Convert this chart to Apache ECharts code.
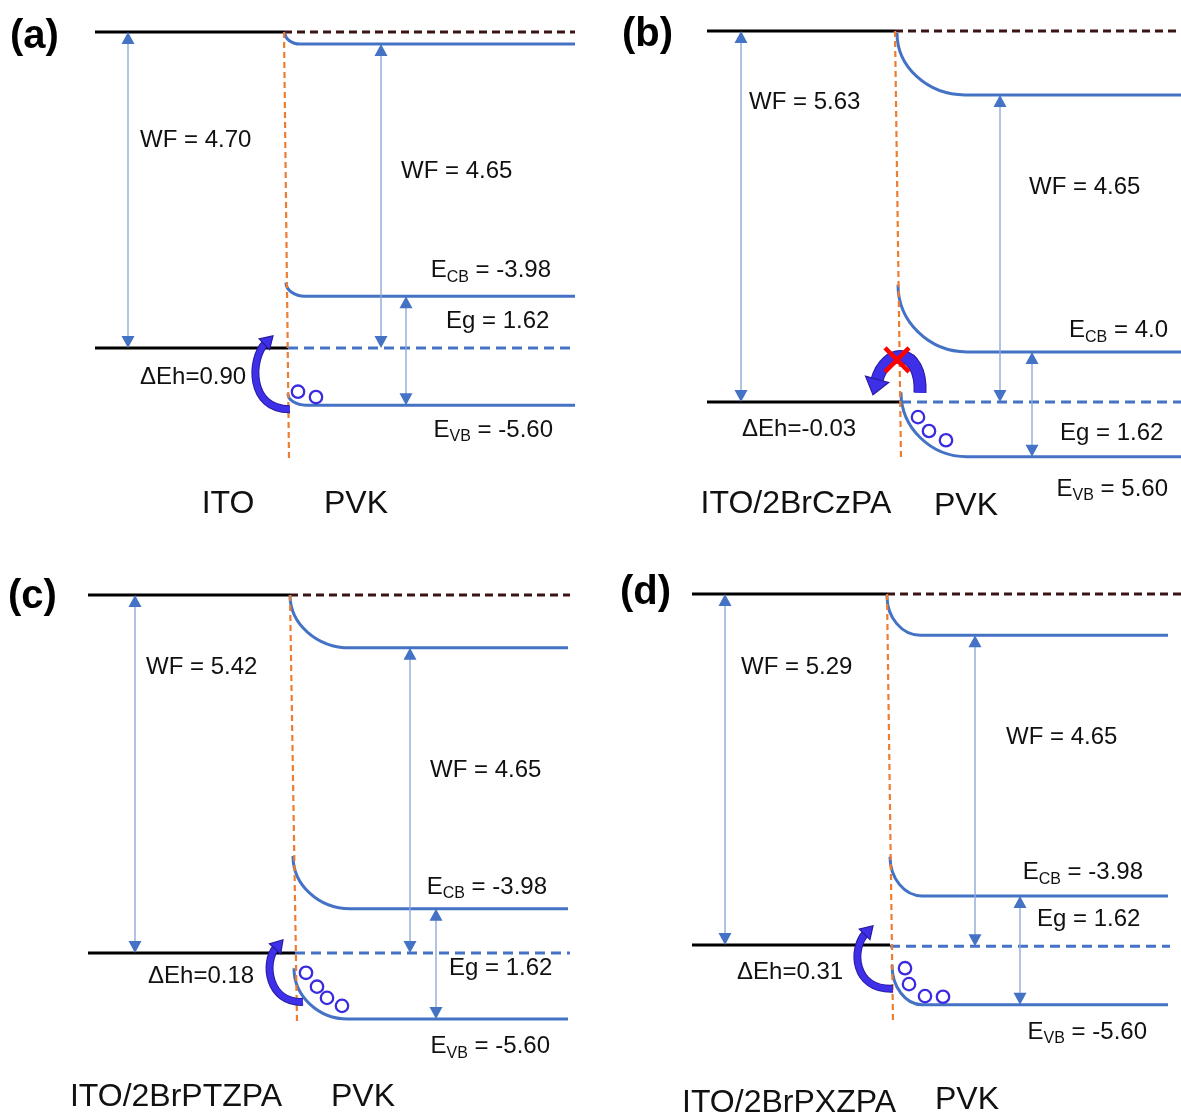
<!DOCTYPE html>
<html><head><meta charset="utf-8">
<script src="https://cdn.jsdelivr.net/npm/echarts@6/dist/echarts.min.js"></script>
<style>html,body{margin:0;padding:0;background:#fff}#c{width:1181px;height:1117px}</style>
</head><body><div id="c"></div>
<script>
// ===== DATA (energies in eV, relative to the vacuum level) =====
const panelTags = ['(a)', '(b)', '(c)', '(d)'];
const substrateNames = ['ITO', 'ITO/2BrCzPA', 'ITO/2BrPTZPA', 'ITO/2BrPXZPA'];
const absorberName = 'PVK';
const substrateWF = [4.70, 5.63, 5.42, 5.29];
const substrateWFText = ['4.70', '5.63', '5.42', '5.29'];
const pvkWFText = ['4.65', '4.65', '4.65', '4.65'];
const ecbText = ['-3.98', '4.0', '-3.98', '-3.98'];
const egText = ['1.62', '1.62', '1.62', '1.62'];
const evbText = ['-5.60', '5.60', '-5.60', '-5.60'];
const deltaEhText = ['0.90', '-0.03', '0.18', '0.31'];
// drawn PVK levels
const pvkVacSurface = [-0.01, -0.03, 0.00, -0.03];
const pvkVacBulk = [-0.18, -0.97, -0.80, -0.62];
const pvkCBSurface = [-3.73, -3.85, -3.95, -3.96];
const pvkCBBulk = [-3.93, -4.87, -4.75, -4.55];
const pvkVBSurface = [-5.38, -5.48, -5.65, -5.59];
const pvkVBBulk = [-5.55, -6.46, -6.42, -6.19];
const pvkFermi = [-4.70, -5.63, -5.42, -5.31];
// accumulated holes at the interface [x, E]
const holes = [
  [[298, -5.35], [316, -5.43]],
  [[328, -5.86], [339, -6.07], [356, -6.21]],
  [[306, -5.72], [317, -5.93], [327, -6.10], [342, -6.22]],
  [[315, -5.64], [319, -5.88], [335, -6.06], [353, -6.07]]
];
// hole-transfer arrows: tail, ctrl1, ctrl2, tip  [x, E]
const transferArrows = [
  [[290, -5.61], [248, -5.62], [250, -4.85], [273, -4.52]],
  [[330, -5.49], [332, -4.80], [296, -4.78], [283, -5.52]],
  [[303, -6.16], [268, -6.18], [263, -5.56], [283, -5.22]],
  [[303, -5.95], [263, -5.97], [261, -5.34], [283, -5.00]]
];
const blocked = [false, true, false, false];
const blockMark = [null, [307, -4.99], null, null];

// ===== LAYOUT =====
const gridLeft = [0, 590, 0, 590];
const gridWidth = [590, 591, 590, 591];
const vacuumPx = [32, 31, 595, 594];
const pxPerEV = [67.23, 65.9, 66.05, 66.35];
const Y_MAX = 0.4, Y_MIN = -7.8;
const itoStartX = [95, 117, 88, 102];
const ifaceTopX = [284, 305, 290, 297];
const ifaceBotX = [289, 311, 297, 303];
const ifaceBotE = [-6.34, -6.48, -6.46, -6.45];
const fermiJoinX = [288, 311, 295, 300];
const vacBendX = [[285, 300], [307, 375], [290, 350], [297, 330]];
const cbBendX = [[286, 305], [308, 377], [293, 350], [300, 332]];
const vbBendX = [[288, 306], [311, 377], [294, 348], [302, 332]];
const pvkEndX = [575, 591, 568, 578];
const vacDashEndX = [575, 591, 570, 591];
const fermiDashEndX = [570, 591, 570, 580];
const itoArrowX = [128, 151, 135, 135];
const pvkArrowX = [381, 410, 410, 385];
const egArrowX = [406, 442, 436, 430];
const tagPos = [[10, -0.07], [32, -0.06], [8, -0.03], [30, 0.02]];
const itoWFPos = [[140, -1.61], [159, -1.08], [146, -1.09], [151, -1.10]];
const pvkWFPos = [[401, -2.07], [439, -2.37], [430, -2.65], [416, -2.16]];
const ecbPos = [[551, -3.55], [578, -4.54], [547, -4.42], [553, -4.20]];
const egPos = [[446, -4.31], [470, -6.10], [449, -5.65], [447, -4.90]];
const evbPos = [[553, -5.92], [578, -6.95], [550, -6.84], [557, -6.60]];
const dEhPos = [[140, -5.13], [152, -6.05], [148, -5.77], [147, -5.71]];
const subPos = [[228, -7.02], [206, -7.18], [176, -7.60], [199, -7.67]];
const pvkPos = [[356, -7.02], [376, -7.21], [363, -7.60], [377, -7.63]];
const arrowBodyW = [6, 11, 6, 6];
const arrowHeadL = [12, 16, 12, 12];
const arrowHeadHW = [7.5, 12, 7.5, 7.5];

const FONT = "'Liberation Sans', Arial, Helvetica, sans-serif";
const BLUE = '#4472c4', BLACK = '#000000', ORANGE = '#ed7d31';

function makeRender(i) {
  return function (params, api) {
    const P = (x, y) => api.coord([x, y]);
    const ch = [];
    const seg = (a, b, stroke, w, dash) => ch.push({ type: 'line', shape: { x1: a[0], y1: a[1], x2: b[0], y2: b[1] }, style: { stroke: stroke, lineWidth: w, lineDash: dash || null, fill: 'none' } });
    const band = (x0, y0, x1, y1, xEnd, stroke, w) => {
      const a = P(x0, y0), b = P(x1, y1), e = P(xEnd, y1);
      const k = 0.55;
      ch.push({ type: 'bezierCurve', shape: { x1: a[0], y1: a[1], x2: b[0], y2: b[1], cpx1: a[0], cpy1: a[1] + k * (b[1] - a[1]), cpx2: b[0] - k * (b[0] - a[0]), cpy2: b[1] }, style: { stroke: stroke, lineWidth: w, fill: 'none' } });
      seg(b, e, stroke, w);
    };
    const head = (tip, ux, uy, len, hw, fill, stroke) => {
      const nx = -uy, ny = ux;
      const bx = tip[0] - ux * len, by = tip[1] - uy * len;
      ch.push({ type: 'polygon', shape: { points: [tip, [bx + nx * hw, by + ny * hw], [bx - nx * hw, by - ny * hw]] }, style: { fill: fill, stroke: stroke || null, lineWidth: stroke ? 1.2 : 0 } });
    };
    const dbl = (x, yTop, yBot) => {
      const a = P(x, yTop), b = P(x, yBot), L = 12;
      seg([a[0], a[1] + L - 1], [b[0], b[1] - L + 1], '#8eaadb', 1.4);
      head(a, 0, -1, L, 6.5, BLUE);
      head(b, 0, 1, L, 6.5, BLUE);
    };
    const txt = (pos, text, extra) => {
      const p = P(pos[0], pos[1]);
      ch.push({ type: 'text', x: p[0], y: p[1], style: Object.assign({ text: text, fill: '#111', fontFamily: FONT, fontSize: 24, align: 'left', verticalAlign: 'middle' }, extra || {}) });
    };
    const richSub = (pos, main, sub, rest) => {
      txt(pos, '{m|' + main + '}{s|' + sub + '}{m|' + rest + '}', {
        align: 'right',
        rich: {
          m: { fontSize: 24, fontFamily: FONT, fill: '#111' },
          s: { fontSize: 16, fontFamily: FONT, fill: '#111', padding: [14, 0, 0, 0] }
        }
      });
    };

    // ITO levels
    seg(P(itoStartX[i], 0), P(ifaceTopX[i], 0), BLACK, 3);
    seg(P(itoStartX[i], -substrateWF[i]), P(fermiJoinX[i], -substrateWF[i]), BLACK, 3);
    // PVK vacuum reference (dashed)
    seg(P(ifaceTopX[i], 0), P(vacDashEndX[i], 0), '#3a1414', 3, [8, 5]);
    // PVK bands
    band(vacBendX[i][0], pvkVacSurface[i], vacBendX[i][1], pvkVacBulk[i], pvkEndX[i], BLUE, 3);
    band(cbBendX[i][0], pvkCBSurface[i], cbBendX[i][1], pvkCBBulk[i], pvkEndX[i], BLUE, 3);
    band(vbBendX[i][0], pvkVBSurface[i], vbBendX[i][1], pvkVBBulk[i], pvkEndX[i], BLUE, 3);
    // PVK Fermi level
    seg(P(fermiJoinX[i], pvkFermi[i]), P(fermiDashEndX[i], pvkFermi[i]), BLUE, 3, [10, 6]);
    // interface
    seg(P(ifaceTopX[i], 0), P(ifaceBotX[i], ifaceBotE[i]), ORANGE, 2.2, [6, 4]);
    // arrows
    dbl(itoArrowX[i], 0, -substrateWF[i]);
    dbl(pvkArrowX[i], pvkVacBulk[i], pvkFermi[i]);
    dbl(egArrowX[i], pvkCBBulk[i], pvkVBBulk[i]);
    // holes
    holes[i].forEach(h => {
      const p = P(h[0], h[1]);
      ch.push({ type: 'circle', shape: { cx: p[0], cy: p[1], r: 6.2 }, style: { fill: 'none', stroke: '#3a2be0', lineWidth: 2.3 } });
    });
    // hole transfer arrow
    const ta = transferArrows[i].map(q => P(q[0], q[1]));
    const tx = ta[3][0] - ta[2][0], ty = ta[3][1] - ta[2][1];
    const tl = Math.hypot(tx, ty), ux = tx / tl, uy = ty / tl;
    const L = arrowHeadL[i];
    const end = [ta[3][0] - ux * (L - 2), ta[3][1] - uy * (L - 2)];
    const bz = { x1: ta[0][0], y1: ta[0][1], cpx1: ta[1][0], cpy1: ta[1][1], cpx2: ta[2][0], cpy2: ta[2][1], x2: end[0], y2: end[1] };
    ch.push({ type: 'bezierCurve', shape: bz, style: { stroke: '#2a1a9e', lineWidth: arrowBodyW[i] + 2, fill: 'none' } });
    ch.push({ type: 'bezierCurve', shape: bz, style: { stroke: '#3d30e8', lineWidth: arrowBodyW[i], fill: 'none' } });
    head(ta[3], ux, uy, L, arrowHeadHW[i], '#3d30e8', '#2a1a9e');
    if (blocked[i]) {
      const c = P(blockMark[i][0], blockMark[i][1]), s = 12;
      seg([c[0] - s, c[1] - s], [c[0] + s, c[1] + s], '#ff0000', 4.5);
      seg([c[0] - s, c[1] + s], [c[0] + s, c[1] - s], '#ff0000', 4.5);
    }
    // texts
    txt(tagPos[i], panelTags[i], { fontSize: 40, fontWeight: 'bold', fill: '#000' });
    txt(itoWFPos[i], 'WF = ' + substrateWFText[i]);
    txt(pvkWFPos[i], 'WF = ' + pvkWFText[i]);
    richSub(ecbPos[i], 'E', 'CB', ' = ' + ecbText[i]);
    txt(egPos[i], 'Eg = ' + egText[i]);
    richSub(evbPos[i], 'E', 'VB', ' = ' + evbText[i]);
    txt(dEhPos[i], '\u0394Eh=' + deltaEhText[i]);
    txt(subPos[i], substrateNames[i], { fontSize: 32, align: 'center' });
    txt(pvkPos[i], absorberName, { fontSize: 32, align: 'center' });
    return { type: 'group', children: ch };
  };
}

const grids = [], xAxes = [], yAxes = [], series = [];
for (let i = 0; i < 4; i++) {
  grids.push({ left: gridLeft[i], width: gridWidth[i], top: vacuumPx[i] - Y_MAX * pxPerEV[i], height: (Y_MAX - Y_MIN) * pxPerEV[i] });
  xAxes.push({ type: 'value', gridIndex: i, min: 0, max: gridWidth[i], show: false });
  yAxes.push({ type: 'value', gridIndex: i, min: Y_MIN, max: Y_MAX, show: false });
  series.push({ type: 'custom', xAxisIndex: i, yAxisIndex: i, coordinateSystem: 'cartesian2d', clip: false, silent: true, data: [[0, 0]], renderItem: makeRender(i) });
}
const chart = echarts.init(document.getElementById('c'), null, { renderer: 'canvas' });
chart.setOption({ animation: false, backgroundColor: '#ffffff', grid: grids, xAxis: xAxes, yAxis: yAxes, series: series });
</script></body></html>
